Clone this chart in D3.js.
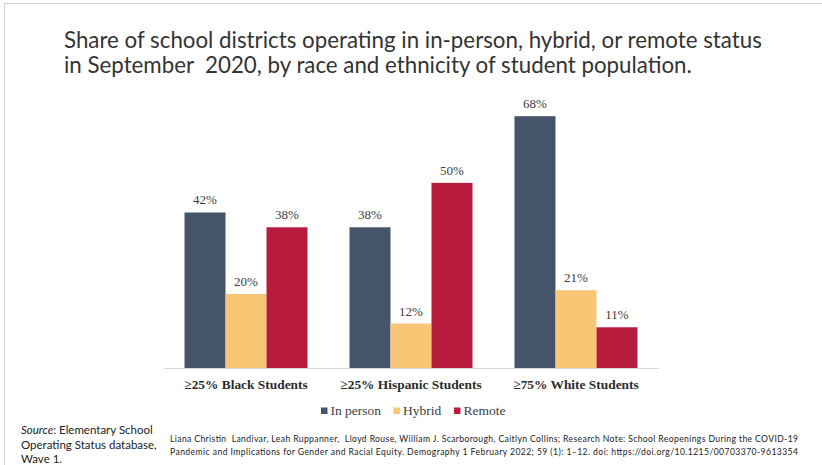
<!DOCTYPE html>
<html>
<head>
<meta charset="utf-8">
<script src="https://cdn.jsdelivr.net/npm/d3@7"></script>
<style>
  html, body { margin: 0; padding: 0; background: #fff; }
  svg { display: block; }
</style>
</head>
<body>
<svg id="chart" width="822" height="465"></svg>
<script>
// Groups of districts by student population
const categories = ["≥25% Black Students", "≥25% Hispanic Students", "≥75% White Students"];
// Operating status series
const seriesNames = ["In person", "Hybrid", "Remote"];
// Share of districts (%) per group, one array per status
const inPerson = [42, 38, 68];
const hybrid   = [20, 12, 21];
const remote   = [38, 50, 11];

const titleLines = [
  "Share of school districts operating in in-person, hybrid, or remote status",
  "in September  2020, by race and ethnicity of student population."
];
const sourceLines = ["Elementary School", "Operating Status database,", "Wave 1."];
const citationLines = [
  "Liana Christin  Landivar, Leah Ruppanner,  Lloyd Rouse, William J. Scarborough, Caitlyn Collins; Research Note: School Reopenings During the COVID-19",
  "Pandemic and Implications for Gender and Racial Equity. Demography 1 February 2022; 59 (1): 1–12. doi: https://doi.org/10.1215/00703370-9613354"
];

const colors = { "In person": "#44546a", "Hybrid": "#f9c675", "Remote": "#b71c3c" };
const valuesBySeries = { "In person": inPerson, "Hybrid": hybrid, "Remote": remote };

const rows = categories.map((c, i) => ({
  category: c,
  values: seriesNames.map(s => ({ series: s, value: valuesBySeries[s][i] }))
}));

const svg = d3.select("#chart");

// frame lines along top and left edge
svg.append("line").attr("x1", 4).attr("x2", 822).attr("y1", 3.5).attr("y2", 3.5)
  .attr("stroke", "#d4d4d4").attr("stroke-width", 1);
svg.append("line").attr("x1", 4.5).attr("x2", 4.5).attr("y1", 3).attr("y2", 465)
  .attr("stroke", "#d4d4d4").attr("stroke-width", 1);

// title
svg.append("g").selectAll("text").data(titleLines).join("text")
  .attr("x", 64)
  .attr("y", (d, i) => 48 + i * 25)
  .attr("font-family", "Lato, 'Open Sans', sans-serif")
  .attr("font-size", 22.3)
  .attr("fill", "#333")
  .style("white-space", "pre")
  .text(d => d);

// scales
const x0 = d3.scaleBand().domain(categories).range([163.5, 658.5])
  .paddingInner(0.2545).paddingOuter(0.12727);
const x1 = d3.scaleBand().domain(seriesNames).range([0, x0.bandwidth()]);
const y = d3.scaleLinear().domain([0, 70]).range([368, 108.8]);

// bars
const groups = svg.append("g").selectAll("g").data(rows).join("g")
  .attr("transform", d => `translate(${x0(d.category)},0)`);

groups.selectAll("rect").data(d => d.values).join("rect")
  .attr("x", d => x1(d.series))
  .attr("y", d => y(d.value))
  .attr("width", x1.bandwidth())
  .attr("height", d => y(0) - y(d.value))
  .attr("fill", d => colors[d.series]);

// value labels
groups.selectAll("text").data(d => d.values).join("text")
  .attr("x", d => x1(d.series) + x1.bandwidth() / 2)
  .attr("y", d => y(d.value) - 8)
  .attr("text-anchor", "middle")
  .attr("font-family", "'Liberation Serif', 'Times New Roman', serif")
  .attr("font-size", 13)
  .attr("fill", "#404040")
  .text(d => d.value + "%");

// category axis
const xAxis = svg.append("g")
  .attr("transform", `translate(0,${y(0)})`)
  .call(d3.axisBottom(x0).tickSize(0).tickSizeOuter(0).tickPadding(11.5));
xAxis.select(".domain").attr("stroke", "#d9d9d9").attr("stroke-width", 1);
xAxis.selectAll(".tick text")
  .attr("font-family", "'Liberation Serif', 'Times New Roman', serif")
  .attr("font-size", 13.4)
  .attr("font-weight", "bold")
  .attr("fill", "#2b2b2b");

// legend
const legendX = [321, 393.5, 454];
const legend = svg.append("g").selectAll("g").data(seriesNames).join("g")
  .attr("transform", (d, i) => `translate(${legendX[i]},0)`);
legend.append("rect")
  .attr("x", 0).attr("y", 407.5).attr("width", 6.5).attr("height", 6.5)
  .attr("fill", d => colors[d]);
legend.append("text")
  .attr("x", 9.5).attr("y", 414.5)
  .attr("font-family", "'Liberation Serif', 'Times New Roman', serif")
  .attr("font-size", 13.5)
  .attr("fill", "#404040")
  .text(d => d);

// source note
const src = svg.append("g")
  .attr("font-family", "Lato, 'Open Sans', sans-serif")
  .attr("font-size", 11.5)
  .attr("fill", "#222");
src.append("text").attr("x", 21).attr("y", 434)
  .call(t => {
    t.append("tspan").attr("font-style", "italic").text("Source");
    t.append("tspan").text(": " + sourceLines[0]);
  });
sourceLines.slice(1).forEach((line, i) => {
  src.append("text").attr("x", 21).attr("y", 448.5 + i * 14.5).text(line);
});

// citation
svg.append("g").selectAll("text").data(citationLines).join("text")
  .attr("x", 170)
  .attr("y", (d, i) => 442 + i * 12.5)
  .attr("font-family", "Lato, 'Open Sans', sans-serif")
  .attr("font-size", 8.6)
  .attr("fill", "#222")
  .attr("textLength", 628)
  .attr("lengthAdjust", "spacing")
  .style("white-space", "pre")
  .text(d => d);
</script>
</body>
</html>
